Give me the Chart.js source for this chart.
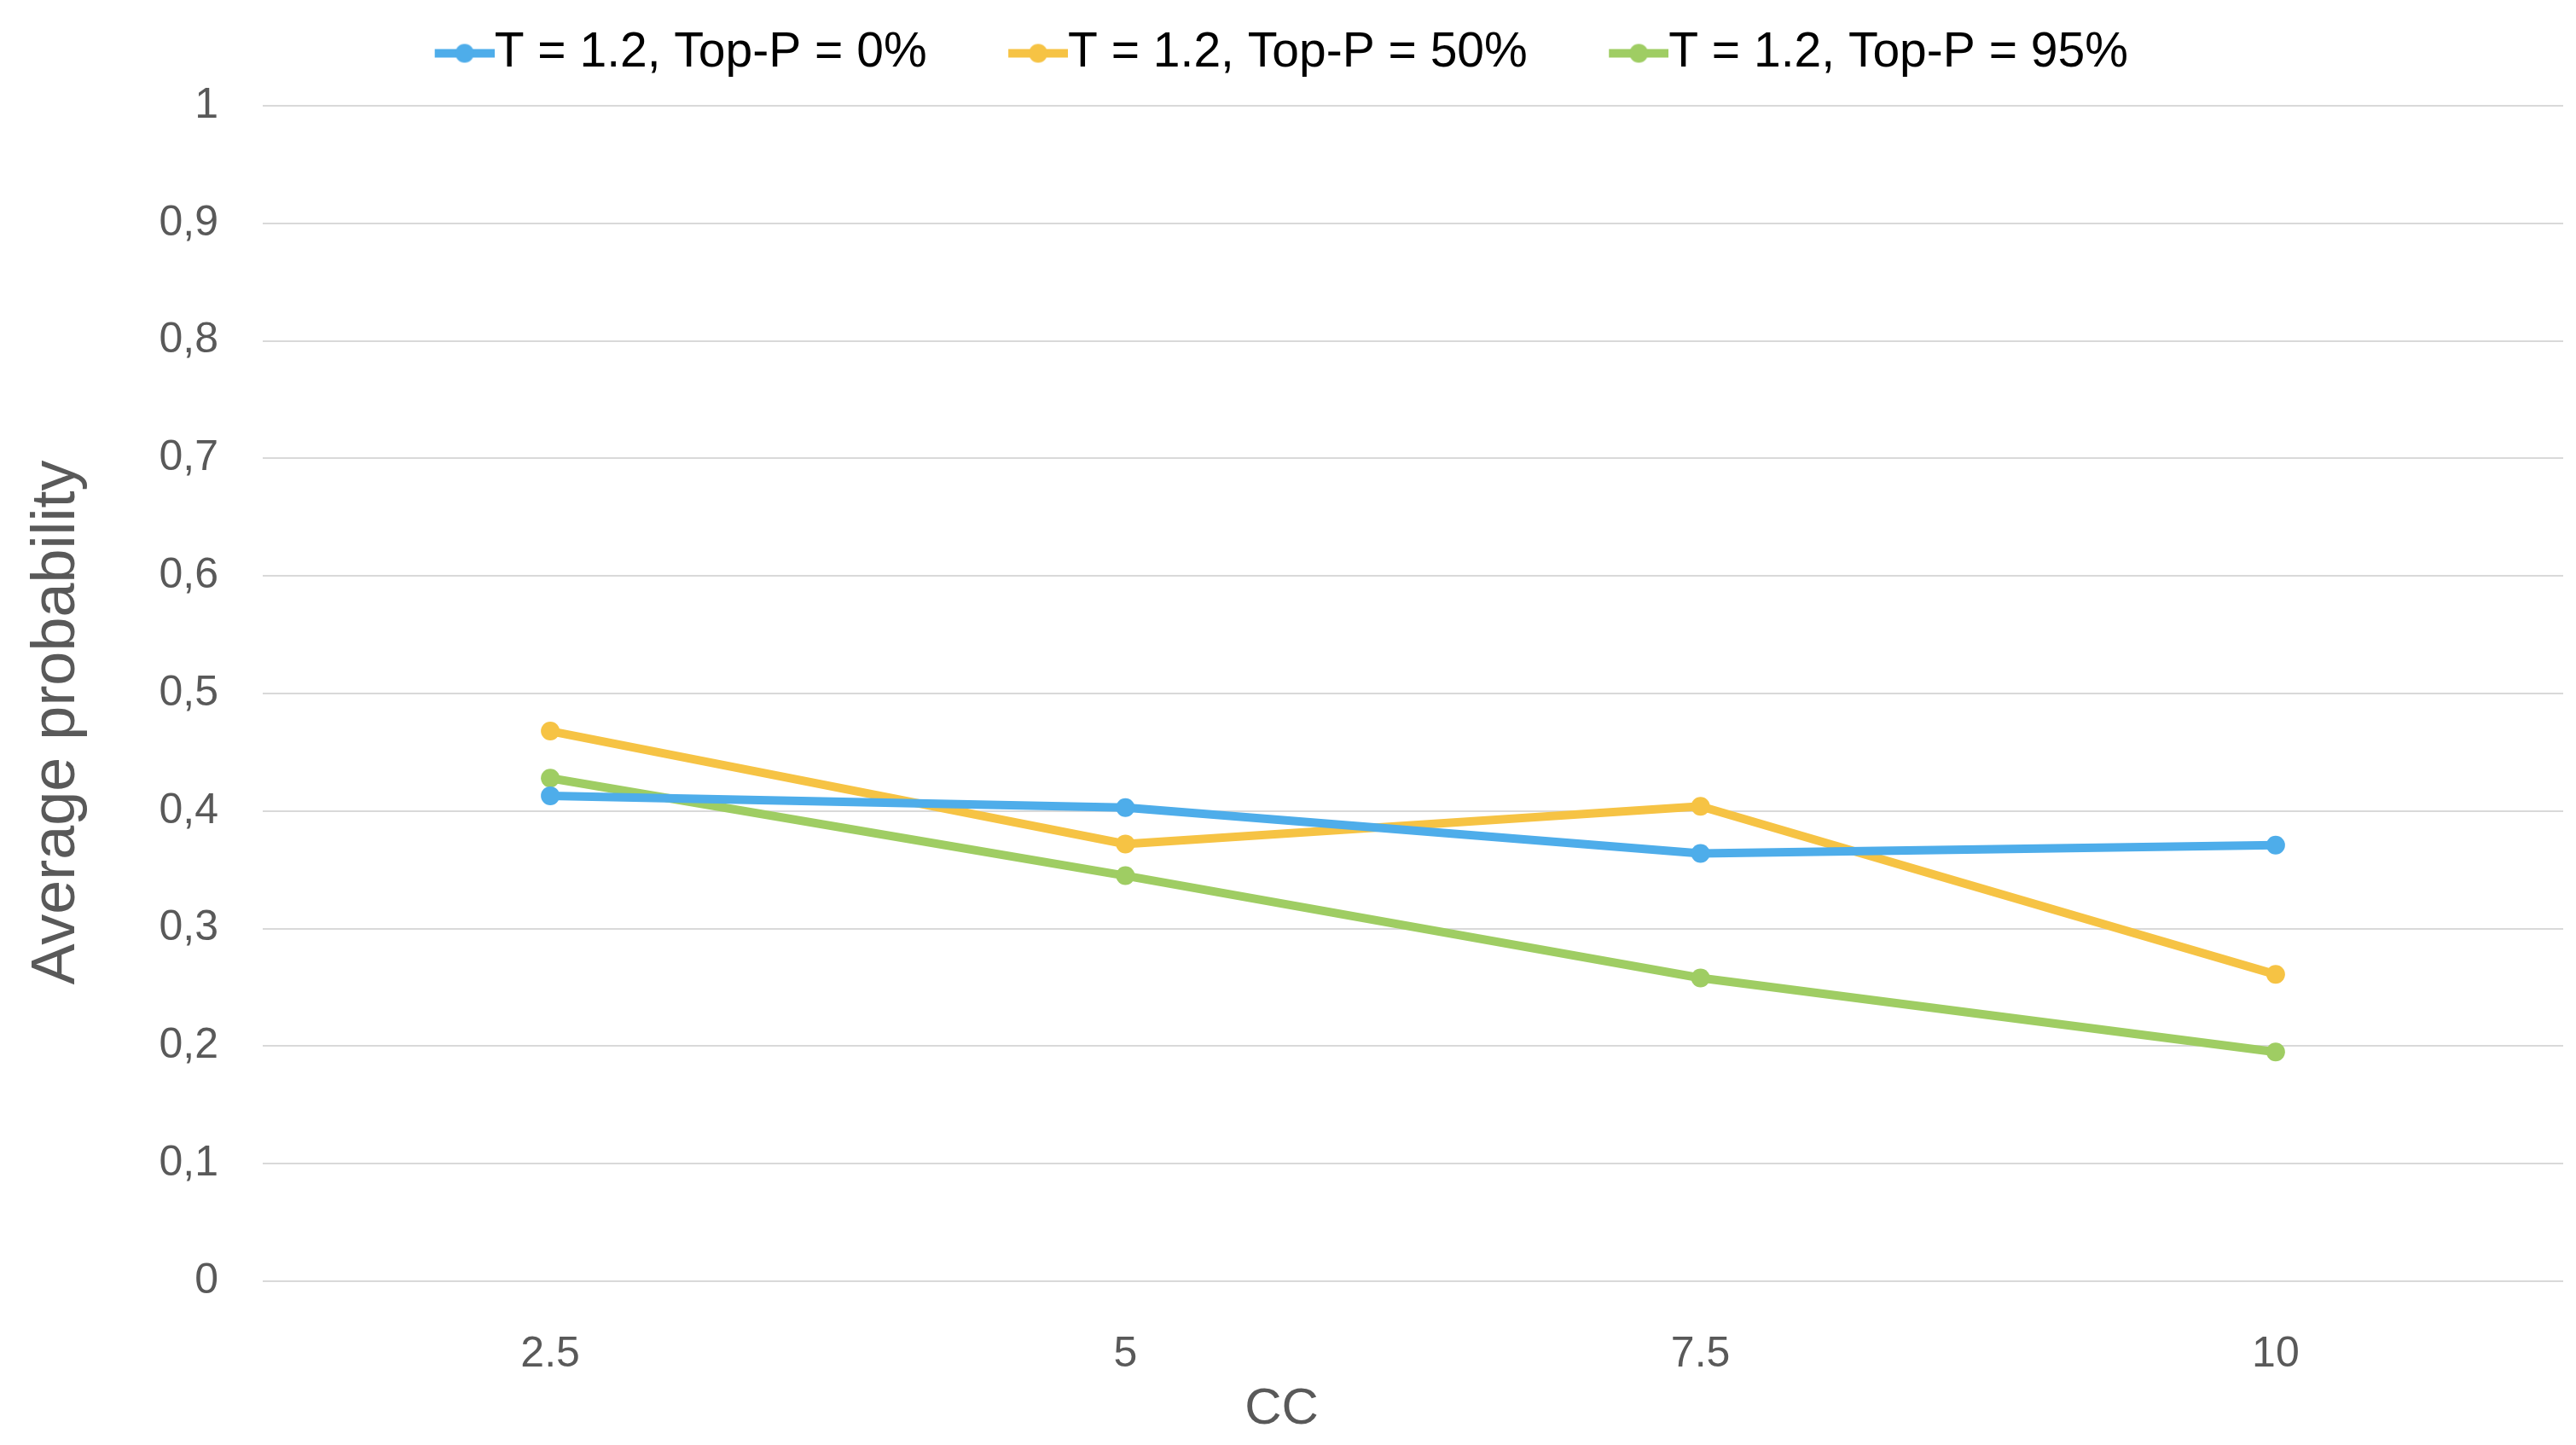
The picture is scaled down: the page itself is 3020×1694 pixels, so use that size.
<!DOCTYPE html>
<html>
<head>
<meta charset="utf-8">
<script src="https://cdn.jsdelivr.net/npm/chart.js@4"></script>
<style>
  html, body { margin: 0; padding: 0; background: #fff; }
</style>
</head>
<body>
<canvas id="chart" width="3020" height="1694"></canvas>
<script>
// Chart data
const categories = ['2.5', '5', '7.5', '10'];
const seriesNames = ['T = 1.2, Top-P = 0%', 'T = 1.2, Top-P = 50%', 'T = 1.2, Top-P = 95%'];
const topP0 = [0.413, 0.403, 0.364, 0.371];
const topP50 = [0.468, 0.372, 0.404, 0.261];
const topP95 = [0.428, 0.345, 0.258, 0.195];
const yTickLabels = ['0', '0,1', '0,2', '0,3', '0,4', '0,5', '0,6', '0,7', '0,8', '0,9', '1'];
const xTitle = 'CC';
const yTitle = 'Average probability';

const seriesColors = ['#4EADEA', '#F6C344', '#9FCD63'];

Chart.defaults.font.family = '"Liberation Sans", Arial, sans-serif';

// Legend marker: short line with a dot, like the spreadsheet legend
function legendMarker(color) {
    const c = document.createElement('canvas');
    c.width = 98;
    c.height = 26;
    const g = c.getContext('2d');
    g.strokeStyle = color;
    g.lineWidth = 10;
    g.beginPath();
    g.moveTo(28, 13);
    g.lineTo(98, 13);
    g.stroke();
    g.fillStyle = color;
    g.beginPath();
    g.arc(63, 13, 11, 0, Math.PI * 2);
    g.fill();
    return c;
}
const markers = seriesColors.map(legendMarker);

// Push the plot area down below the legend
const legendGap = {
    id: 'legendGap',
    beforeInit(chart) {
        const fit = chart.legend.fit;
        chart.legend.fit = function () {
            fit.call(this);
            this.height += 23;
        };
    }
};

// Vertical axis title centred on the whole canvas (as the spreadsheet does)
const yAxisTitle = {
    id: 'yAxisTitle',
    afterDraw(chart, args, opts) {
        const ctx = chart.ctx;
        ctx.save();
        ctx.translate(opts.x, chart.height / 2);
        ctx.rotate(-Math.PI / 2);
        ctx.font = opts.size + 'px ' + Chart.defaults.font.family;
        ctx.fillStyle = opts.color;
        ctx.textAlign = 'center';
        ctx.textBaseline = 'middle';
        ctx.fillText(opts.text, 0, 0);
        ctx.restore();
    }
};

const seriesValues = [topP0, topP50, topP95];

new Chart(document.getElementById('chart'), {
    type: 'line',
    data: {
        labels: categories,
        datasets: seriesValues.map((values, i) => ({
            label: seriesNames[i],
            data: values,
            borderColor: seriesColors[i],
            backgroundColor: seriesColors[i],
            borderWidth: 10,
            pointRadius: 11,
            pointHoverRadius: 11,
            pointBorderWidth: 0,
            tension: 0
        }))
    },
    options: {
        responsive: false,
        animation: false,
        devicePixelRatio: 1,
        layout: { padding: { top: -62, right: 15, bottom: 0, left: 0 } },
        plugins: {
            tooltip: { enabled: false },
            title: {
                display: true,
                position: 'bottom',
                text: xTitle,
                color: '#595959',
                font: { size: 60, weight: 'normal' },
                padding: { top: 0, bottom: 6 }
            },
            yAxisTitle: { text: yTitle, x: 67, size: 72, color: '#595959' },
            legend: {
                position: 'top',
                labels: {
                    usePointStyle: true,
                    pointStyleWidth: 41,
                    padding: 96,
                    color: '#000',
                    font: { size: 57 },
                    generateLabels(chart) {
                        return chart.data.datasets.map((ds, i) => ({
                            text: ds.label,
                            pointStyle: markers[i],
                            fillStyle: ds.borderColor,
                            strokeStyle: ds.borderColor,
                            lineWidth: 0,
                            hidden: false,
                            fontColor: '#000',
                            datasetIndex: i
                        }));
                    }
                }
            }
        },
        scales: {
            x: {
                offset: true,
                grid: { display: false },
                border: { display: false },
                ticks: { color: '#595959', font: { size: 50 }, padding: 48 },
                afterFit(scale) { scale.height = 114; }
            },
            y: {
                min: 0,
                max: 1,
                ticks: {
                    stepSize: 0.1,
                    color: '#595959',
                    font: { size: 50 },
                    padding: 52,
                    callback: (v) => yTickLabels[Math.round(v * 10)]
                },
                grid: { color: '#D9D9D9', lineWidth: 2, drawTicks: false },
                border: { display: false },
                afterFit(scale) { scale.width = 308; }
            }
        }
    },
    plugins: [legendGap, yAxisTitle]
});
</script>
</body>
</html>
